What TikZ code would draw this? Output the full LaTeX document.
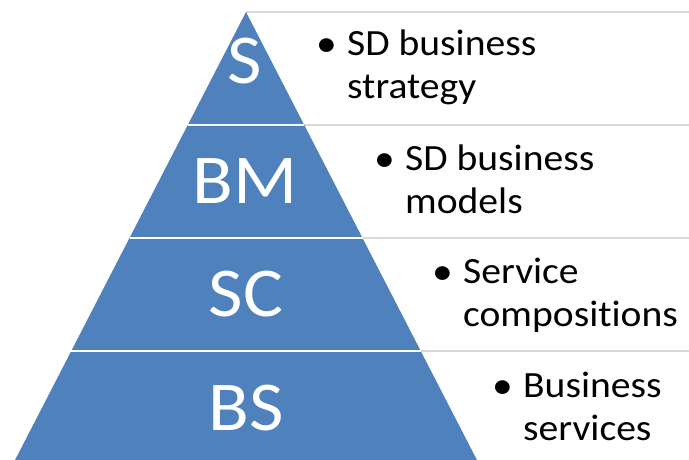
\documentclass[tikz,border=0pt]{standalone}
\usepackage{fontspec}
\setmainfont{Carlito}[FakeStretch=1.07, Ligatures=CommonOff]
\usetikzlibrary{calc, positioning}
\definecolor{pyramid blue}{HTML}{4F81BD}
\newcommand{\itembullet}{\makebox[29pt][l]{\hspace{-2pt}\raisebox{-1pt}{\scalebox{1.05}{•}}}}

\begin{document}
\begin{tikzpicture}[x=1pt, y=-1pt]
	% Setup the styles for the pyramid and the list
	\tikzset{level label/.style={text=white, inner sep=0pt, anchor=base,
	                             font=\fontsize{70}{70}\selectfont},
	         item text/.style={inner sep=0pt, anchor=base west,
	                           font=\fontsize{37}{43}\selectfont},
	         box line/.style={draw=gray!30, line width=2pt},
	         cut line/.style={draw=white, line width=2pt}}
	\useasboundingbox (0,0) rectangle (689,459);
	% Corners of the pyramid
	\coordinate (apex) at (246,12);
	\coordinate (bl) at (13,464);
	\coordinate (br) at (479,464);
	\coordinate (edge) at (689,0);
	% Draw the list boxes
	\draw[box line] (apex) -- (apex -| edge);
	\draw[box line] ($(apex)!0.25!(br)$) coordinate (r1) -- (r1 -| edge);
	\draw[box line] ($(apex)!0.5!(br)$) coordinate (r2) -- (r2 -| edge);
	\draw[box line] ($(apex)!0.75!(br)$) coordinate (r3) -- (r3 -| edge);
	% Draw the pyramid
	\fill[pyramid blue] (apex) -- (br) -- (bl) -- cycle;
	\draw[cut line] ($(apex)!0.25!(bl)$) -- (r1);
	\draw[cut line] ($(apex)!0.5!(bl)$) -- (r2);
	\draw[cut line] ($(apex)!0.75!(bl)$) -- (r3);
	% Draw the level labels
	\node[level label] at (245,83)  (s)  {S};
	\node[level label] at (245,203) (bm) {BM};
	\node[level label] at (246,316) (sc) {SC};
	\node[level label] at (246,430) (bs) {BS};
	% Draw the list items
	\node[item text] at (318,55)  (st)
		{\begin{tabular}[t]{@{}l@{}l@{}}\itembullet & SD business\\ & strategy\end{tabular}};
	\node[item text] at (376,170) (bmt)
		{\begin{tabular}[t]{@{}l@{}l@{}}\itembullet & SD business\\ & models\end{tabular}};
	\node[item text] at (434,283) (sct)
		{\begin{tabular}[t]{@{}l@{}l@{}}\itembullet & Service\\ & compositions\end{tabular}};
	\node[item text] at (494,397) (bst)
		{\begin{tabular}[t]{@{}l@{}l@{}}\itembullet & Business\\ & services\end{tabular}};
\end{tikzpicture}
\end{document}
